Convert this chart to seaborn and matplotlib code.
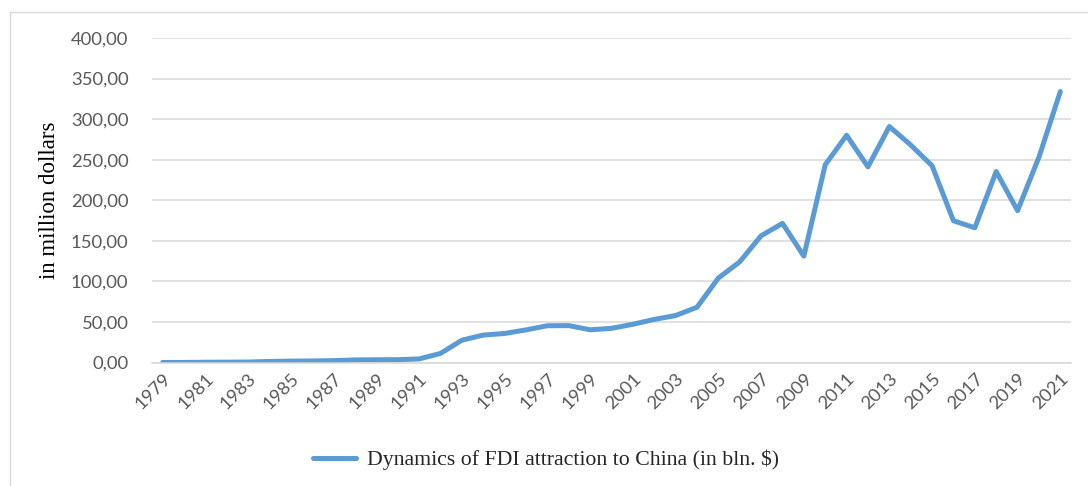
import matplotlib
matplotlib.use("Agg")
import matplotlib.pyplot as plt
import matplotlib.patches as mpatches
from matplotlib.ticker import FuncFormatter, FixedLocator
import seaborn as sns
import pandas as pd

# === DATA ===
years = list(range(1979, 2022))
fdi = [0.06, 0.06, 0.3, 0.4, 0.6, 1.3, 1.7, 1.9, 2.3, 3.2, 3.4, 3.5, 4.4, 11.2,
       27.5, 33.8, 35.8, 40.2, 45.3, 45.5, 40.3, 42.1, 47.1, 53.1, 57.9, 68.1,
       104.1, 124.1, 156.2, 171.5, 131.1, 243.7, 280.1, 241.2, 290.9, 268.1,
       242.5, 174.7, 166.1, 235.4, 187.2, 253.1, 334.0]
series_label = "Dynamics of FDI attraction to China (in bln. $)"
y_label = "in million dollars"

df = pd.DataFrame({"Year": years, "FDI": fdi})

sns.set_style("white")
plt.rcParams["font.family"] = ["Lato", "DejaVu Sans"]

fig = plt.figure(figsize=(10.88, 4.86), dpi=100)
ax = fig.add_axes([152 / 1088, 1 - 362.5 / 486, (1071 - 152) / 1088, (362.5 - 38) / 486])

sns.lineplot(data=df, x="Year", y="FDI", ax=ax, color="#5B9BD5", linewidth=3.6,
             label=series_label, legend=False, solid_capstyle="round")

ax.set_xlim(years[0] - 0.5, years[-1] + 0.5)
ax.set_ylim(0, 400)
ax.set_yticks(range(0, 401, 50))
ax.yaxis.set_major_formatter(FuncFormatter(lambda v, p: f"{v:.2f}".replace(".", ",")))
ax.grid(axis="y", color="#D9D9D9", linewidth=1.1)
ax.set_axisbelow(True)

# labels every other year at category centres, ticks on category boundaries
ax.set_xticks(years[::2])
ax.set_xticklabels([str(y) for y in years[::2]], rotation=45, ha="right",
                   rotation_mode="anchor")
ax.xaxis.set_minor_locator(FixedLocator([y - 0.5 for y in years] + [years[-1] + 0.5]))
ax.tick_params(axis="x", which="major", length=0, pad=6, labelsize=13.3, labelcolor="#595959")
ax.tick_params(axis="x", which="minor", length=5, width=1.1, color="#D9D9D9")
ax.tick_params(axis="y", length=0, pad=17, labelsize=13.3, labelcolor="#595959")

for s in ["top", "right", "left"]:
    ax.spines[s].set_visible(False)
ax.spines["bottom"].set_color("#D9D9D9")
ax.spines["bottom"].set_linewidth(1.1)

ax.set_xlabel("")
ax.set_ylabel(y_label, family=["Liberation Serif", "DejaVu Serif"], fontsize=16.5,
              color="#000000", labelpad=8)

handles, labels = ax.get_legend_handles_labels()
fig.legend(handles, labels, loc="center", bbox_to_anchor=(546 / 1088, 1 - 460 / 486),
           frameon=False, handlelength=2.0, handletextpad=0.5,
           prop={"family": ["Liberation Serif", "DejaVu Serif"], "size": 15.7})

# chart border
fig.patches.append(mpatches.Rectangle((10 / 1088, -0.1), 1.2, 1.1 - 12 / 486,
                                      transform=fig.transFigure, fill=False,
                                      edgecolor="#D9D9D9", linewidth=1.0))

fig.savefig("out.png", dpi=100)
